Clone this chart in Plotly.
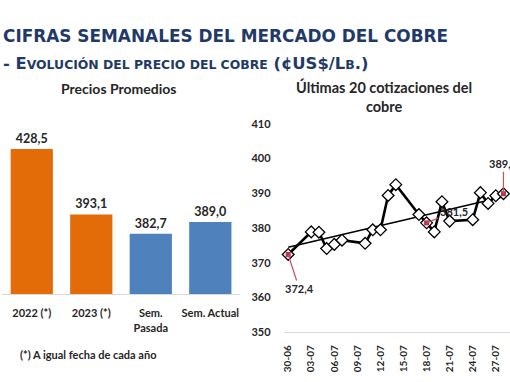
import numpy as np
import plotly.graph_objects as go

# ---------------- data ----------------
bar_categories = ["2022 (*)", "2023 (*)", "Sem.<br>Pasada", "Sem. Actual"]
bar_values = [428.5, 393.1, 382.7, 389.0]
bar_labels = ["428,5", "393,1", "382,7", "389,0"]
bar_colors = ["#E36C09", "#E36C09", "#4F81BD", "#4F81BD"]

quote_dates = ["2023-06-30", "2023-07-03", "2023-07-04", "2023-07-05", "2023-07-06",
               "2023-07-07", "2023-07-10", "2023-07-11", "2023-07-12", "2023-07-13",
               "2023-07-14", "2023-07-17", "2023-07-18", "2023-07-19", "2023-07-20",
               "2023-07-21", "2023-07-24", "2023-07-25", "2023-07-26", "2023-07-27",
               "2023-07-28"]
quote_values = [372.4, 378.9, 378.8, 374.1, 375.3, 376.5, 375.6, 379.5, 379.5, 389.4,
                392.5, 383.9, 381.5, 378.9, 387.6, 382.0, 382.4, 390.2, 387.1, 389.3,
                389.9]
highlight_idx = [0, 12, 20]
highlight_labels = ["372,4", "381,5", "389,9"]

W, H = 510, 382
def px(x): return x / W
def py(y): return 1 - y / H

fig = go.Figure()

# ---------------- left: bar chart ----------------
fig.add_trace(go.Bar(
    x=bar_categories, y=bar_values, marker_color=bar_colors, marker_line_width=0,
    text=bar_labels, textposition="outside", cliponaxis=False,
    textfont=dict(family="Lato", size=12.5, color="#262626", weight="bold"),
    xaxis="x", yaxis="y", showlegend=False, hoverinfo="skip"))

# ---------------- right: line chart ----------------
d = np.array(quote_dates, dtype="datetime64[D]")
days = (d - d[0]).astype(float)
coef = np.polyfit(days, quote_values, 1)
trend_x = [quote_dates[0], quote_dates[-1]]
trend_y = [coef[1], coef[1] + coef[0] * days[-1]]

fig.add_trace(go.Scatter(
    x=trend_x, y=trend_y, mode="lines", line=dict(color="black", width=1.5),
    xaxis="x2", yaxis="y2", showlegend=False, hoverinfo="skip"))
fig.add_trace(go.Scatter(
    x=quote_dates, y=quote_values, mode="lines+markers",
    line=dict(color="black", width=2.6),
    marker=dict(symbol="diamond", size=9, color="white", line=dict(color="black", width=1.3)),
    xaxis="x2", yaxis="y2", showlegend=False, cliponaxis=False))
fig.add_trace(go.Scatter(
    x=[quote_dates[i] for i in highlight_idx], y=[quote_values[i] for i in highlight_idx],
    mode="markers", marker=dict(symbol="square", size=5, color="#C0304A"),
    xaxis="x2", yaxis="y2", showlegend=False, cliponaxis=False))

offsets = [(11, 34), (27, -11), (0, -30)]
annotations = []
for i, lab, (ax, ay) in zip(highlight_idx, highlight_labels, offsets):
    annotations.append(dict(
        x=quote_dates[i], y=quote_values[i], xref="x2", yref="y2",
        text=lab, showarrow=True, arrowhead=0, arrowwidth=1.2, arrowcolor="#C85060",
        ax=ax, ay=ay, font=dict(family="Lato", size=11, color="#262626", weight="bold"),
        standoff=0, startstandoff=0))

# titles & header
annotations += [
    dict(text="<b>CIFRAS SEMANALES DEL MERCADO DEL COBRE</b>", x=px(-1), y=py(30),
         xref="paper", yref="paper", xanchor="left", yanchor="middle", showarrow=False,
         font=dict(family="DejaVu Sans", size=16.9, color="#1F3A68")),
    dict(text="<b>- E<span style='font-size:12.4px'>VOLUCIÓN DEL PRECIO DEL COBRE</span> (¢US$/L<span style='font-size:12.4px'>B</span>.)</b>",
         x=px(-1), y=py(59), xref="paper", yref="paper", xanchor="left", yanchor="middle",
         showarrow=False, font=dict(family="DejaVu Sans", size=16.4, color="#1F3A68")),
    dict(text="<b>Precios Promedios</b>", x=px(117), y=py(84), xref="paper", yref="paper",
         xanchor="center", yanchor="middle", showarrow=False,
         font=dict(family="Lato", size=14, color="#262626")),
    dict(text="<b>Últimas 20 cotizaciones del<br>cobre</b>", x=px(384), y=py(93),
         xref="paper", yref="paper", xanchor="center", yanchor="middle", showarrow=False,
         font=dict(family="Lato", size=14.5, color="#262626")),
    dict(text="<b>(*) A igual fecha de cada año</b>", x=px(16), y=py(360), xref="paper",
         yref="paper", xanchor="left", yanchor="middle", showarrow=False,
         font=dict(family="Lato", size=11, color="#262626")),
]

fig.update_layout(
    width=W, height=H, margin=dict(l=0, r=0, t=0, b=0),
    paper_bgcolor="white", plot_bgcolor="white",
    bargap=0.29,
    xaxis=dict(domain=[px(0), px(239)], showgrid=False, showline=True, linecolor="#D9D9D9",
               linewidth=1, ticks="", fixedrange=True, ticklabelstandoff=9,
               tickfont=dict(family="Lato", size=11, color="#262626", weight="bold")),
    yaxis=dict(domain=[py(297.3), py(110)], range=[350, 447.8], visible=False),
    xaxis2=dict(domain=[px(282.7), 1.0], anchor="y2", type="date",
                range=["2023-06-29 09:40", "2023-07-28 20:24"],
                tick0="2023-06-30", dtick=3 * 86400000, tickformat="%d-%m", tickangle=-90,
                showgrid=False, showline=True, linecolor="#D9D9D9", ticks="",
                ticklabelstandoff=8,
                tickfont=dict(family="Lato", size=10, color="#262626", weight="bold")),
    yaxis2=dict(domain=[py(336.7), py(121)], range=[350, 410], anchor="x2", dtick=10,
                showgrid=False, showline=False, ticks="", ticklabelstandoff=12,
                tickfont=dict(family="Lato", size=11, color="#262626", weight="bold")),
    annotations=annotations,
)

fig.write_html("out.html", config={"displayModeBar": False},
               post_script="document.body.style.margin='0';document.body.style.overflow='hidden';")
